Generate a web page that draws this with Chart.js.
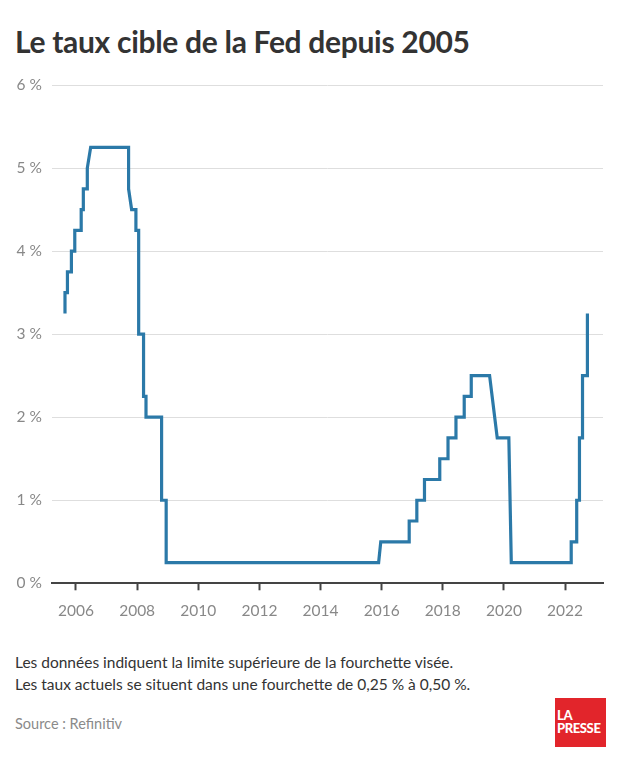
<!DOCTYPE html>
<html lang="fr">
<head>
<meta charset="utf-8">
<title>Le taux cible de la Fed depuis 2005</title>
<script src="https://cdn.jsdelivr.net/npm/chart.js@4.4.0/dist/chart.umd.min.js"></script>
<style>
    body { margin: 0; width: 620px; height: 768px; background: #fff; position: relative; overflow: hidden; font-family: Lato, sans-serif; }
    h1 { position: absolute; left: 15px; top: 23px; margin: 0; font-size: 30px; font-weight: 700; color: #333; letter-spacing: -0.3px; white-space: nowrap; }
    #chart { position: absolute; left: 0; top: 0; }
    .note { position: absolute; left: 15px; top: 651px; font-size: 15.5px; line-height: 22px; color: #333; }
    .source { position: absolute; left: 15px; top: 715px; font-size: 14.5px; color: #8a8a8a; }
    .logo { position: absolute; left: 555px; top: 698px; width: 51px; height: 49px; background: #e2252b; color: #fff; font-weight: 900; font-size: 13px; line-height: 13px; box-sizing: border-box; padding: 11px 0 0 2px; letter-spacing: -0.4px; }
</style>
</head>
<body>
<h1>Le taux cible de la Fed depuis 2005</h1>
<canvas id="chart" width="620" height="650"></canvas>
<div class="note">Les données indiquent la limite supérieure de la fourchette visée.<br>Les taux actuels se situent dans une fourchette de 0,25 % à 0,50 %.</div>
<div class="source">Source : Refinitiv</div>
<div class="logo">LA<br>PRESSE</div>
<script>
// Fed target rate, upper bound (%); paired dates make the steps
const years = [
    2005.64, 2005.64, 2005.72, 2005.72, 2005.85, 2005.85, 2005.96, 2005.96, 2006.17, 2006.17,
    2006.24, 2006.24, 2006.37, 2006.37, 2006.48, 2007.72, 2007.72, 2007.82, 2007.96, 2007.96,
    2008.05, 2008.05, 2008.21, 2008.21, 2008.29, 2008.29, 2008.8, 2008.8, 2008.95, 2008.95,
    2015.9, 2015.97, 2016.9, 2016.9, 2017.15, 2017.15, 2017.4, 2017.4, 2017.9, 2017.9,
    2018.17, 2018.17, 2018.43, 2018.43, 2018.7, 2018.7, 2018.93, 2018.93, 2019.53, 2019.78,
    2020.16, 2020.24, 2022.2, 2022.2, 2022.38, 2022.38, 2022.47, 2022.47, 2022.57, 2022.57,
    2022.73, 2022.73
];
const rates = [
    3.25, 3.5, 3.5, 3.75, 3.75, 4.0, 4.0, 4.25, 4.25, 4.5,
    4.5, 4.75, 4.75, 5.0, 5.25, 5.25, 4.75, 4.5, 4.5, 4.25,
    4.25, 3.0, 3.0, 2.25, 2.25, 2.0, 2.0, 1.0, 1.0, 0.25,
    0.25, 0.5, 0.5, 0.75, 0.75, 1.0, 1.0, 1.25, 1.25, 1.5,
    1.5, 1.75, 1.75, 2.0, 2.0, 2.25, 2.25, 2.5, 2.5, 1.75,
    1.75, 0.25, 0.25, 0.5, 0.5, 1.0, 1.0, 1.75, 1.75, 2.5,
    2.5, 3.25
];
const xTicks = [2006, 2008, 2010, 2012, 2014, 2016, 2018, 2020, 2022];
const yTicks = [0, 1, 2, 3, 4, 5, 6];

const points = years.map((x, i) => ({ x: x, y: rates[i] }));
const tickFont = { family: 'Lato', size: 15.5 };

new Chart(document.getElementById('chart').getContext('2d'), {
    type: 'line',
    data: {
        datasets: [{
            data: points,
            borderColor: '#2b79a8',
            borderWidth: 3.2,
            borderJoinStyle: 'miter',
            pointRadius: 0,
            tension: 0,
            fill: false
        }]
    },
    options: {
        responsive: false,
        animation: false,
        layout: { padding: { top: 85, right: 17, left: 0, bottom: 0 } },
        plugins: { legend: { display: false }, tooltip: { enabled: false } },
        scales: {
            x: {
                type: 'linear',
                min: 2005.215,
                max: 2023.24,
                afterBuildTicks: (s) => { s.ticks = xTicks.map(v => ({ value: v })); },
                afterFit: (s) => { s.height = 66.7; },
                border: { display: true, color: '#444', width: 2 },
                grid: { display: true, drawOnChartArea: false, drawTicks: true, tickLength: 7, tickColor: '#444', tickWidth: 2 },
                ticks: { padding: 11, color: '#888', font: tickFont, maxRotation: 0, callback: (v) => String(v) }
            },
            y: {
                min: 0,
                max: 6,
                afterBuildTicks: (s) => { s.ticks = yTicks.map(v => ({ value: v })); },
                afterFit: (s) => { s.width = 52; },
                border: { display: false },
                grid: { color: '#dedede', lineWidth: 1, drawTicks: false },
                ticks: { padding: 10, color: '#888', font: tickFont, callback: (v) => v + ' %' }
            }
        }
    }
});
</script>
</body>
</html>
